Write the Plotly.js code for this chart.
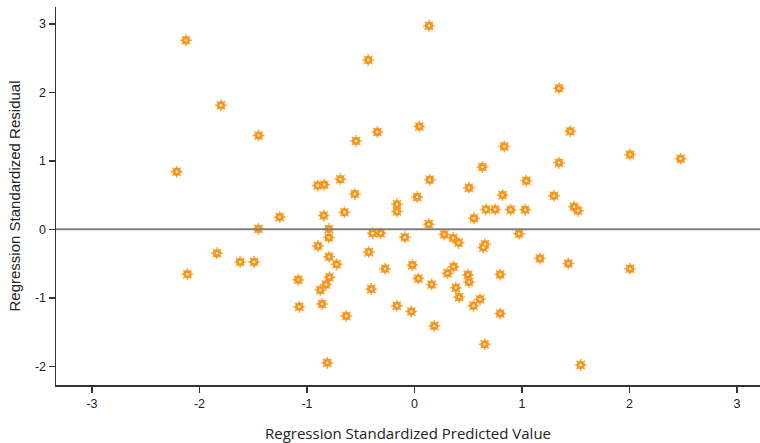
<!DOCTYPE html>
<html>
<head>
<meta charset="utf-8">
<script src="https://cdn.plot.ly/plotly-3.0.1.min.js"></script>
<style>html,body{margin:0;padding:0;background:#fff;}#chart{width:760px;height:443px;}</style>
</head>
<body>
<div id="chart"></div>
<script>
const predicted = [
  -2.126, 0.135, -0.43, -1.80, 1.344, -1.45, -0.544, -0.346, 0.045, 0.835,
  1.449, 1.344, 2.005, 2.476, -2.212, 1.04, 0.82, 0.895, 1.03, 1.297,
  1.484, 1.521, 0.632, -0.90, -0.84, -0.69, -0.555, 0.142, 0.506, -0.163,
  -0.163, 0.025, -1.254, -0.845, -0.652, 0.665, 0.75, 0.553, -0.797, -0.797,
  -0.389, -0.315, -0.09, -0.898, -0.795, -0.425, 0.132, 0.277, 0.36, 0.41,
  0.972, 0.656, 0.64, 1.167, -1.452, -1.838, -1.622, -1.492, -2.113, -0.724,
  -0.274, -0.02, 0.036, -1.081, -0.792, -0.823, -0.876, -0.402, -1.072, -0.86,
  -0.635, -0.164, -0.03, -0.812, 0.364, 0.307, 0.497, 0.507, 0.797, 0.16,
  0.385, 0.414, 0.61, 0.548, 0.797, 0.184, 0.653, 1.431, 2.005, 1.546
];
const residual = [
  2.76, 2.97, 2.47, 1.81, 2.06, 1.37, 1.29, 1.42, 1.50, 1.21,
  1.43, 0.97, 1.09, 1.03, 0.84, 0.71, 0.50, 0.286, 0.286, 0.49,
  0.33, 0.27, 0.91, 0.64, 0.65, 0.73, 0.515, 0.724, 0.605, 0.365,
  0.26, 0.47, 0.178, 0.20, 0.25, 0.29, 0.29, 0.16, 0.004, -0.12,
  -0.056, -0.056, -0.117, -0.244, -0.40, -0.333, 0.075, -0.075, -0.127, -0.195,
  -0.064, -0.217, -0.265, -0.425, 0.006, -0.35, -0.477, -0.477, -0.655, -0.51,
  -0.575, -0.523, -0.72, -0.738, -0.70, -0.805, -0.888, -0.87, -1.13, -1.09,
  -1.265, -1.117, -1.20, -1.95, -0.548, -0.64, -0.665, -0.77, -0.66, -0.805,
  -0.855, -0.99, -1.02, -1.115, -1.228, -1.41, -1.677, -0.50, -0.575, -1.98
];
const xTicks = [-3, -2, -1, 0, 1, 2, 3];
const yTicks = [-2, -1, 0, 1, 2, 3];

const traces = [
  {
    type: 'scatter', mode: 'markers', x: predicted, y: residual,
    marker: {symbol: 'asterisk-open', size: 10, color: '#FBB04F', line: {color: '#FBB04F', width: 1.5}},
    hoverinfo: 'skip', showlegend: false
  },
  {
    type: 'scatter', mode: 'markers', x: predicted, y: residual,
    marker: {symbol: 'circle', size: 8, color: '#F7961F', line: {color: '#F7961F', width: 0.5}},
    hoverinfo: 'skip', showlegend: false
  },
  {
    type: 'scatter', mode: 'markers', x: predicted, y: residual,
    marker: {symbol: 'circle', size: 2.5, color: '#FFF1DC', line: {width: 0}},
    hoverinfo: 'skip', showlegend: false
  }
];

const layout = {
  width: 760, height: 443,
  margin: {l: 56, r: 0, t: 7, b: 58},
  paper_bgcolor: '#ffffff', plot_bgcolor: '#ffffff',
  font: {family: 'Liberation Sans, Arial, sans-serif', size: 12, color: '#222'},
  xaxis: {
    range: [-3.335, 3.214], tickvals: xTicks, ticktext: xTicks.map(String),
    showgrid: false, zeroline: false, showline: true, linecolor: '#333', linewidth: 1.5,
    ticks: 'outside', ticklen: 6, tickwidth: 1.5, tickcolor: '#333',
    tickfont: {family: 'Liberation Sans, Arial, sans-serif', size: 12.5, color: '#222'},
    title: {text: 'Regression Standardized Predicted Value', standoff: 20,
            font: {family: 'Open Sans, Noto Sans, sans-serif', size: 15, color: '#222'}}
  },
  yaxis: {
    range: [-2.273, 3.245], tickvals: yTicks, ticktext: yTicks.map(String),
    showgrid: false, zeroline: false, showline: true, linecolor: '#333', linewidth: 1.5,
    ticks: 'outside', ticklen: 6, tickwidth: 1.5, tickcolor: '#333',
    tickfont: {family: 'Liberation Sans, Arial, sans-serif', size: 12.5, color: '#222'},
    title: {text: 'Regression Standardized Residual', standoff: 10,
            font: {family: 'Liberation Sans, Arial, sans-serif', size: 15, color: '#222'}}
  },
  shapes: [{
    type: 'line', xref: 'paper', yref: 'y', x0: 0, x1: 1, y0: 0, y1: 0,
    line: {color: '#808080', width: 2}, layer: 'above'
  }]
};

Plotly.newPlot('chart', traces, layout, {displayModeBar: false, staticPlot: true});
</script>
</body>
</html>
